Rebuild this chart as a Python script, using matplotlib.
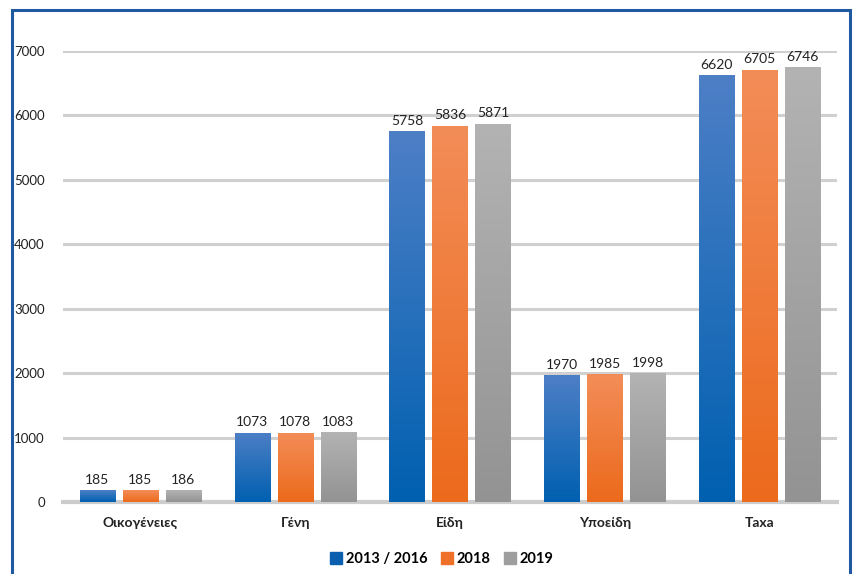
import numpy as np
import matplotlib
matplotlib.use("Agg")
import matplotlib.pyplot as plt
from matplotlib.patches import Rectangle
from matplotlib.colors import LinearSegmentedColormap

plt.rcParams['font.family'] = ['Lato', 'DejaVu Sans']

categories = ["Οικογένειες", "Γένη", "Είδη", "Υποείδη", "Taxa"]
series_names = ["2013 / 2016", "2018", "2019"]
v_2013_2016 = [185, 1073, 5758, 1970, 6620]
v_2018 = [185, 1078, 5836, 1985, 6705]
v_2019 = [186, 1083, 5871, 1998, 6746]
yticks = [0, 1000, 2000, 3000, 4000, 5000, 6000, 7000]

series = [v_2013_2016, v_2018, v_2019]
grads = [("#4d7fc6", "#0060b0"), ("#f38d58", "#ec6a1c"), ("#b3b3b3", "#939393")]
solid = ["#1863b3", "#ee7430", "#a2a2a2"]

fig = plt.figure(figsize=(8.56, 5.74), dpi=100)
ax = fig.add_axes([63/856, 72/574, (837-63)/856, (502-51)/574])

x = np.arange(len(categories))
width = 0.228
step = 0.278
for i, vals in enumerate(series):
    pos = x + (i - 1) * step
    bars = ax.bar(pos, vals, width, color=solid[i], label=series_names[i], zorder=2)
    cmap = LinearSegmentedColormap.from_list("g%d" % i, [grads[i][1], grads[i][0]])
    for b, v in zip(bars, vals):
        bx, by = b.get_x(), b.get_y()
        bw, bh = b.get_width(), b.get_height()
        grad = np.linspace(0, 1, 256).reshape(-1, 1)
        im = ax.imshow(grad, extent=[bx, bx + bw, 0, bh], origin="lower",
                       cmap=cmap, aspect="auto", zorder=2.5)
        im.set_clip_path(b)
        ax.text(bx + bw / 2, v + 70, str(v), ha="center", va="bottom",
                fontsize=10, color="#222222", clip_on=False, zorder=3)

ax.set_xlim(-0.5, len(categories) - 0.5)
ax.set_ylim(0, 7000)
ax.set_yticks(yticks)
ax.set_yticklabels([str(t) for t in yticks], fontsize=9.5, color="#222222")
ax.set_xticks(x)
ax.set_xticklabels(categories, fontsize=10, fontweight="bold", color="#222222")
ax.tick_params(axis="both", length=0)
ax.tick_params(axis="y", pad=13)
ax.tick_params(axis="x", pad=11)
ax.yaxis.grid(True, color="#d0d0d0", linewidth=2.2, zorder=0)
ax.set_axisbelow(True)
for s in ["top", "right", "left", "bottom"]:
    ax.spines[s].set_visible(False)
ax.axhline(0, color="#cccccc", linewidth=3, zorder=1, clip_on=False)

leg = fig.legend(loc="center", bbox_to_anchor=(442/856, 1 - 559/574), ncol=3,
                 frameon=False, prop={"weight": "bold", "size": 10.5},
                 handlelength=0.8, handleheight=0.8, handletextpad=0.3,
                 columnspacing=0.9)
for h, c in zip(leg.legend_handles, ["#0a5fae", "#ee7029", "#9e9e9e"]):
    h.set_color(c)

fig.patches.append(Rectangle((12/856, -0.05), (850-12)/856, 1.05 - 10/574,
                             transform=fig.transFigure, fill=False,
                             edgecolor="#1f5aa0", linewidth=2.2))

fig.savefig("out.png", dpi=100)
